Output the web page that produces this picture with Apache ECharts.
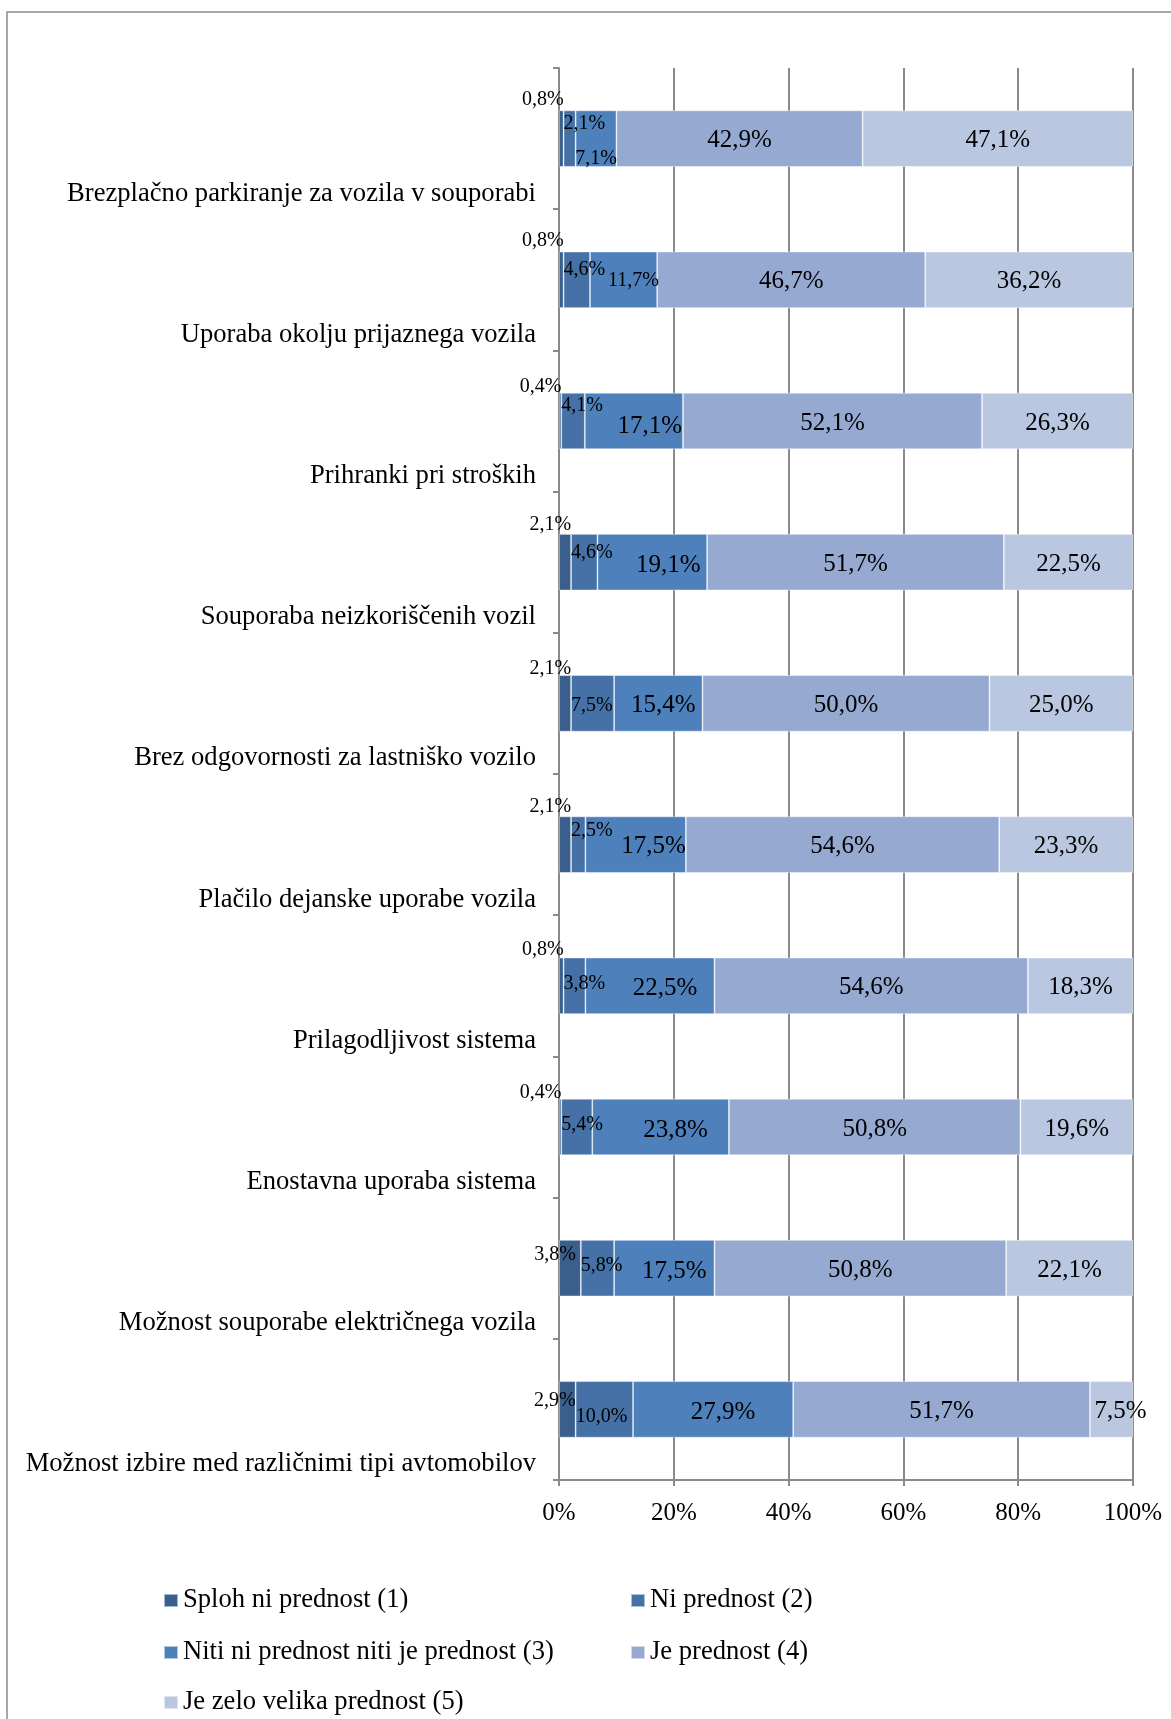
<!DOCTYPE html>
<html>
<head>
<meta charset="utf-8">
<script src="https://cdn.jsdelivr.net/npm/echarts@6/dist/echarts.min.js"></script>
<style>
  html, body { margin: 0; padding: 0; background: #ffffff; }
  #chart { width: 1171px; height: 1719px; }
</style>
</head>
<body>
<div id="chart"></div>
<script>
// Categories, top to bottom
const categories = [
  'Brezplačno parkiranje za vozila v souporabi',
  'Uporaba okolju prijaznega vozila',
  'Prihranki pri stroških',
  'Souporaba neizkoriščenih vozil',
  'Brez odgovornosti za lastniško vozilo',
  'Plačilo dejanske uporabe vozila',
  'Prilagodljivost sistema',
  'Enostavna uporaba sistema',
  'Možnost souporabe električnega vozila',
  'Možnost izbire med različnimi tipi avtomobilov'
];

const seriesNames = [
  'Sploh ni prednost (1)',
  'Ni prednost (2)',
  'Niti ni prednost niti je prednost (3)',
  'Je prednost (4)',
  'Je zelo velika prednost (5)'
];

// Shares of answers (%) per category
const splohNiPrednost   = [0.8, 0.8, 0.4, 2.1, 2.1, 2.1, 0.8, 0.4, 3.8, 2.9];
const niPrednost        = [2.1, 4.6, 4.1, 4.6, 7.5, 2.5, 3.8, 5.4, 5.8, 10.0];
const nitiNiNitiJe      = [7.1, 11.7, 17.1, 19.1, 15.4, 17.5, 22.5, 23.8, 17.5, 27.9];
const jePrednost        = [42.9, 46.7, 52.1, 51.7, 50.0, 54.6, 54.6, 50.8, 50.8, 51.7];
const jeZeloVelika      = [47.1, 36.2, 26.3, 22.5, 25.0, 23.3, 18.3, 19.6, 22.1, 7.5];

// Value axis ticks (%)
const xTicks = [0, 20, 40, 60, 80, 100];

// Label nudges [dx, dy] for each series, so narrow segments stay readable
const labelShift = [
  [[0, 0], [0, 0], [0, 0], [0, 0], [0, 0], [0, 0], [0, 0], [0, 0], [-5, 0], [0, 0]],
  [[0, -15], [0, -10], [0, -15], [0, -9], [0, 2], [0, -14], [0, -2], [0, -2], [0, -2], [0, 7]],
  [[0, 20], [10, 1], [16, 5], [16, 3], [5, 2], [18, 2], [15, 3], [15, 3], [10, 3], [10, 3]],
  [[0, 2], [0, 2], [0, 2], [0, 2], [0, 2], [0, 2], [0, 2], [0, 2], [0, 2], [0, 2]],
  [[0, 2], [0, 2], [0, 2], [0, 2], [0, 2], [0, 2], [0, 2], [0, 2], [0, 2], [9, 2]]
];
// Height above the bar top for the first series' labels
const s1LabelTop = [-11, -11, -6, -9, -6, -10, -8, -6, 15, 20];
const s3SmallLabel = [true, true, false, false, false, false, false, false, false, false];

const colors = ['#3A5F8C', '#4571A6', '#4E80BC', '#95A9D1', '#BAC7E1'];
const FONT = "'Liberation Serif', 'Times New Roman', serif";
const BIG = 25, SMALL = 20;
const AXIS_GRAY = '#8a8a8a';

const fmt = v => v.toFixed(1).replace('.', ',') + '%';

const baseLabel = {
  show: true,
  color: '#000',
  fontFamily: FONT,
  formatter: p => fmt(p.value)
};

function buildSeries(idx, values, itemLabel) {
  return {
    name: seriesNames[idx],
    type: 'bar',
    stack: 'total',
    barCategoryGap: '60%',
    itemStyle: { color: colors[idx], borderColor: 'rgba(255,255,255,0.55)', borderWidth: 0.8 },
    label: baseLabel,
    labelLayout: p => ({ dx: labelShift[idx][p.dataIndex][0], dy: labelShift[idx][p.dataIndex][1], hideOverlap: false }),
    data: values.map((v, i) => ({ value: v, label: Object.assign({}, baseLabel, itemLabel(i)) }))
  };
}

const series = [
  buildSeries(0, splohNiPrednost, i => ({
    position: ['100%', s1LabelTop[i]], align: 'right', verticalAlign: 'middle', fontSize: SMALL
  })),
  buildSeries(1, niPrednost, i => ({
    position: ['0%', '50%'], align: 'left', verticalAlign: 'middle', fontSize: SMALL
  })),
  buildSeries(2, nitiNiNitiJe, i => ({
    position: 'inside', fontSize: s3SmallLabel[i] ? SMALL : BIG
  })),
  buildSeries(3, jePrednost, i => ({
    position: 'inside', fontSize: BIG
  })),
  buildSeries(4, jeZeloVelika, i => ({
    position: 'inside', fontSize: BIG
  }))
];

// One legend block per entry, laid out in two columns
const legendSlots = [
  { left: 163, top: 1587 },
  { left: 630, top: 1587 },
  { left: 163, top: 1639 },
  { left: 630, top: 1639 },
  { left: 163, top: 1689 }
];
const legends = seriesNames.map((name, i) => ({
  data: [name],
  left: legendSlots[i].left,
  top: legendSlots[i].top,
  padding: 0,
  icon: 'rect',
  itemWidth: 14,
  itemHeight: 13,
  selectedMode: false,
  textStyle: { fontFamily: FONT, fontSize: 26.6, color: '#000' }
}));

const chart = echarts.init(document.getElementById('chart'), null, { renderer: 'canvas' });
chart.setOption({
  backgroundColor: '#ffffff',
  animation: false,
  color: colors,
  graphic: [{
    type: 'rect',
    shape: { x: 7, y: 12, width: 1250, height: 1800 },
    style: { fill: 'none', stroke: '#8c8c8c', lineWidth: 1.5 },
    silent: true
  }],
  legend: legends,
  grid: { left: 559, right: 38, top: 68, bottom: 239, containLabel: false },
  xAxis: {
    type: 'value',
    min: xTicks[0],
    max: xTicks[xTicks.length - 1],
    interval: xTicks[1] - xTicks[0],
    axisLine: { show: true, lineStyle: { color: AXIS_GRAY, width: 2 } },
    axisTick: { show: true, length: 6, lineStyle: { color: AXIS_GRAY, width: 2 } },
    axisLabel: { formatter: '{value}%', fontFamily: FONT, fontSize: 25, color: '#000', margin: 21 },
    splitLine: { show: true, lineStyle: { color: AXIS_GRAY, width: 2 } }
  },
  yAxis: {
    type: 'category',
    data: categories,
    inverse: true,
    axisLine: { show: true, lineStyle: { color: AXIS_GRAY, width: 2 } },
    axisTick: { show: true, length: 6, lineStyle: { color: AXIS_GRAY, width: 2 } },
    axisLabel: {
      interval: 0,
      margin: 23,
      fontFamily: FONT,
      fontSize: 26.6,
      color: '#000',
      verticalAlign: 'middle',
      lineHeight: 55,
      // two empty lines push each name down toward the lower band edge
      formatter: v => '\n\n' + v
    },
    splitLine: { show: false }
  },
  series: series
});
</script>
</body>
</html>
